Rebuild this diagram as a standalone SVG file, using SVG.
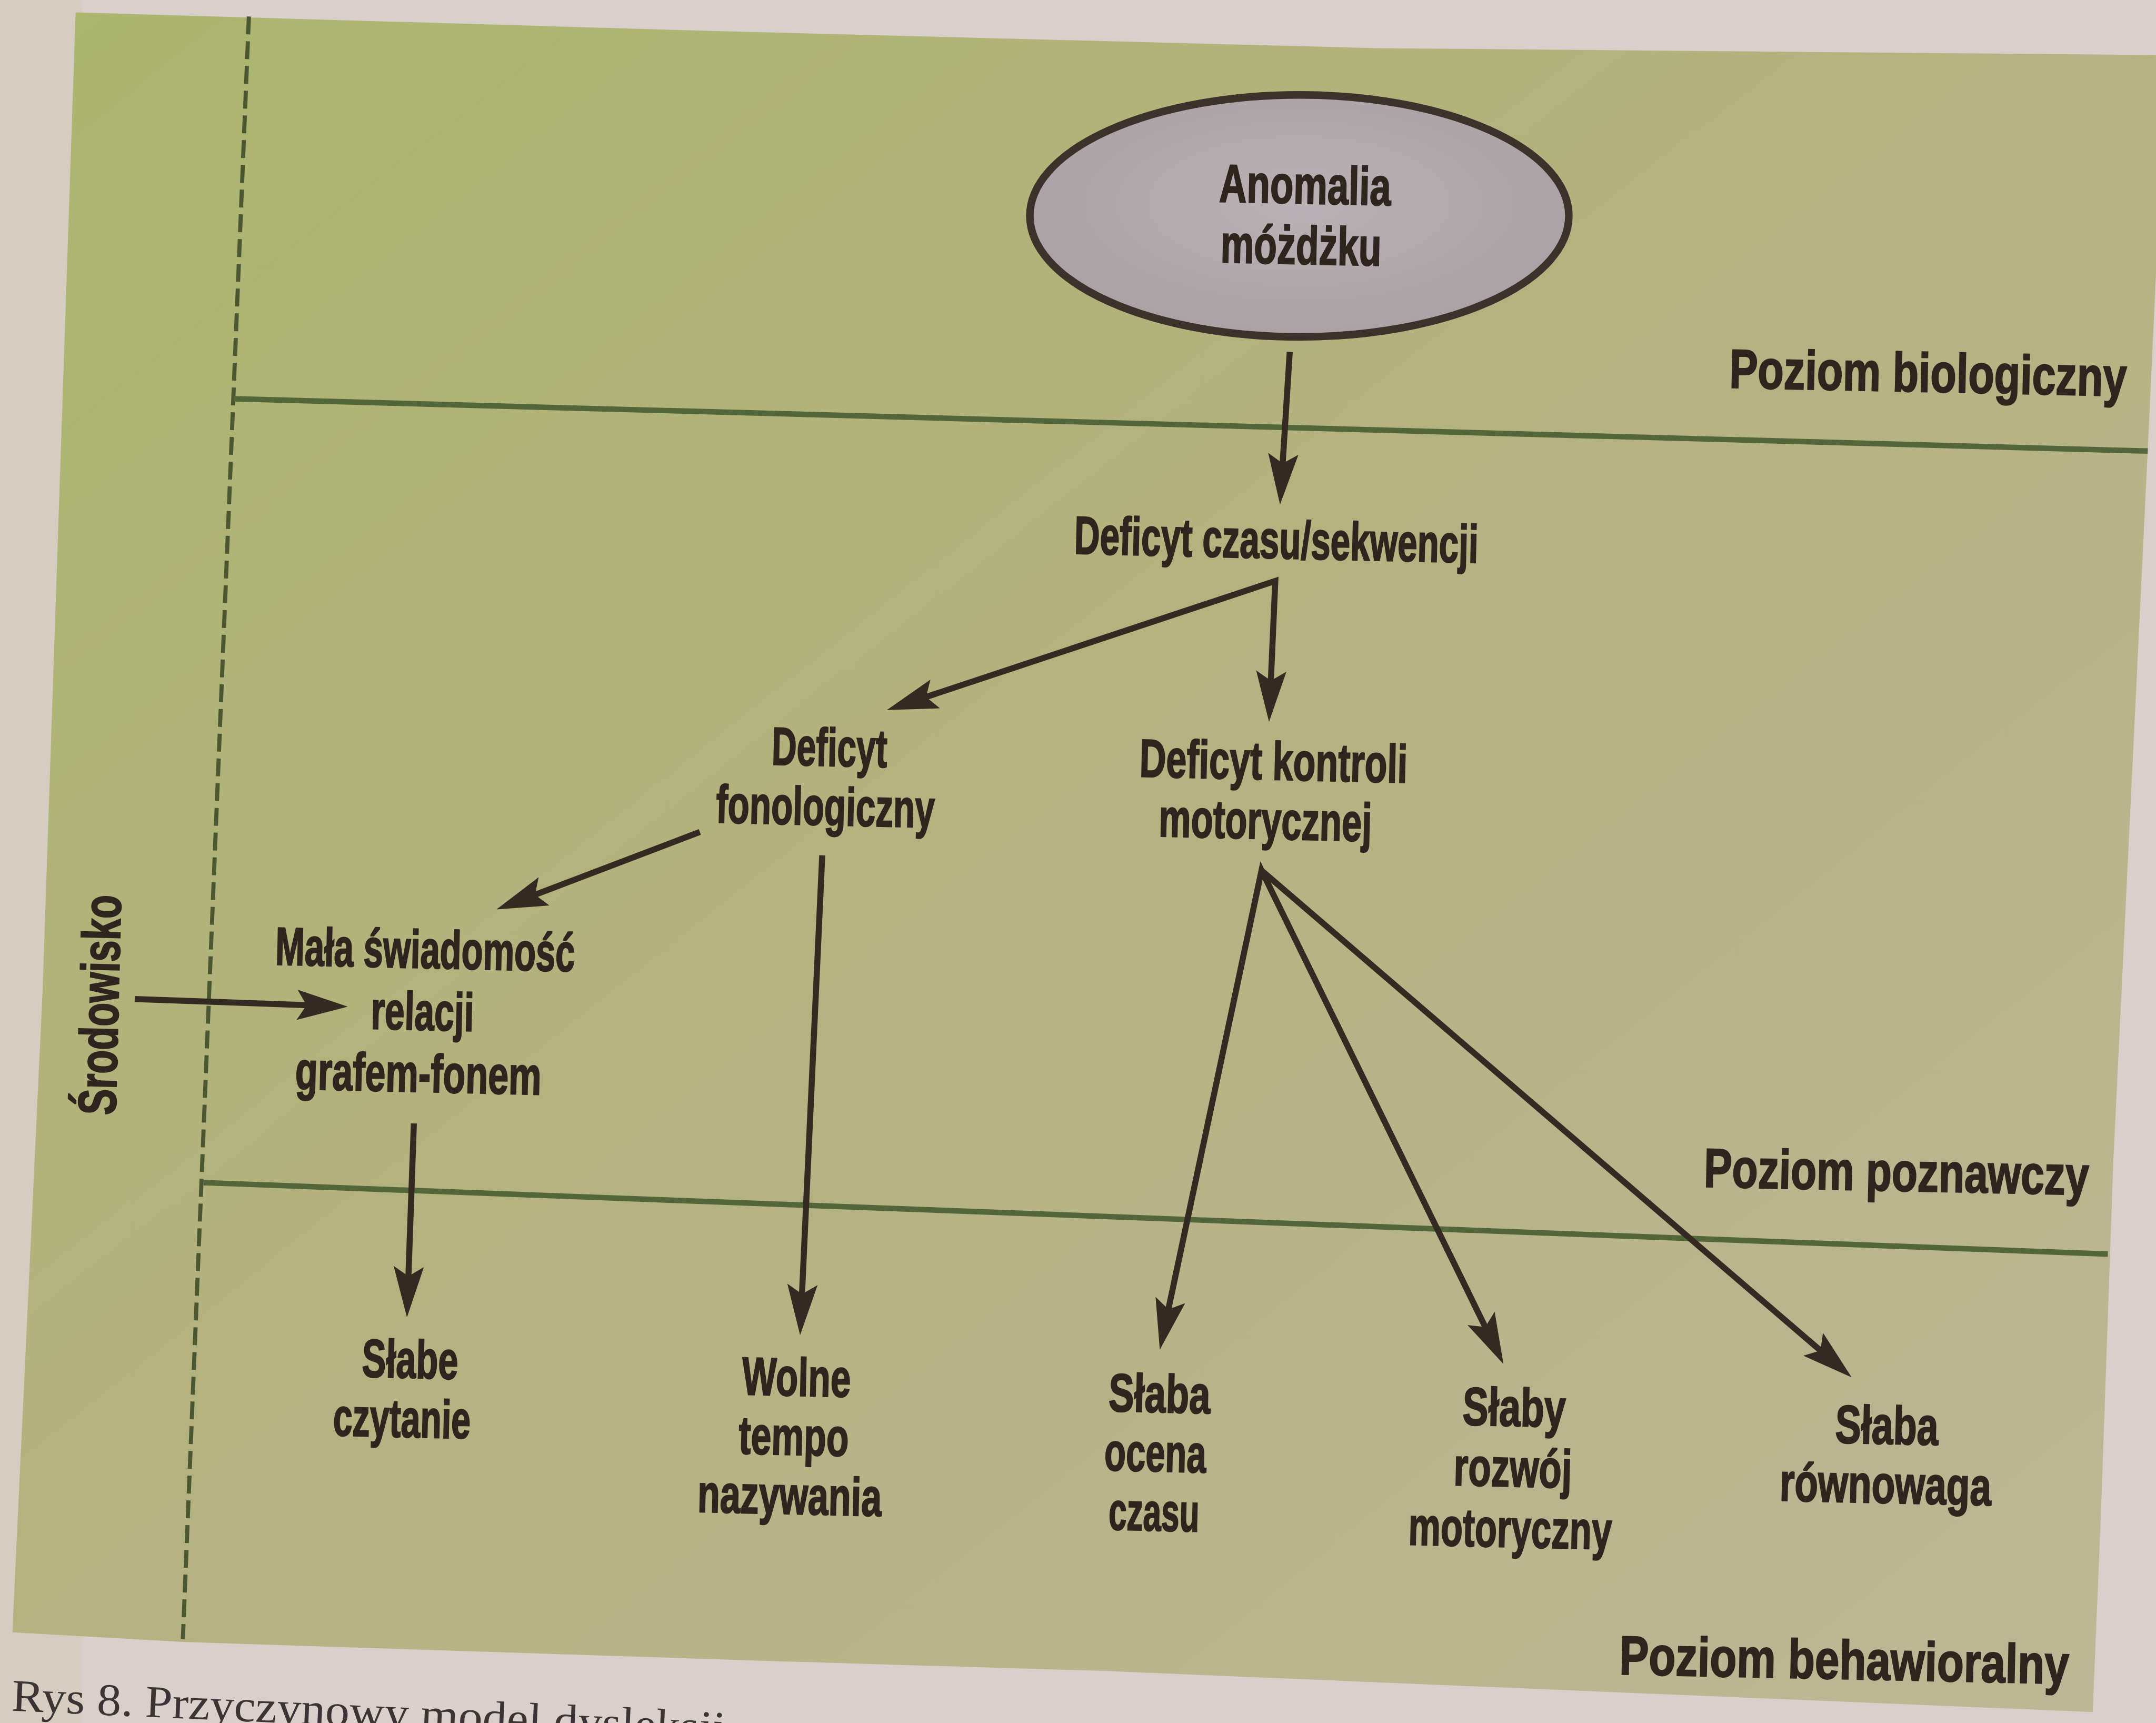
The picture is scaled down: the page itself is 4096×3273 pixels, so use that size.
<svg xmlns="http://www.w3.org/2000/svg" width="4096" height="3273" viewBox="0 0 4096 3273">
<defs>
<linearGradient id="paper" x1="0" y1="0" x2="1" y2="1">
<stop offset="0" stop-color="#abb66f"/>
<stop offset="0.45" stop-color="#b4b27f"/>
<stop offset="1" stop-color="#bdb797"/>
</linearGradient>
<radialGradient id="blob" cx="0.5" cy="0.45" r="0.6">
<stop offset="0" stop-color="#b8b2b6"/>
<stop offset="1" stop-color="#a8a1a4"/>
</radialGradient>
<marker id="ah" markerUnits="userSpaceOnUse" markerWidth="80" markerHeight="40" refX="0" refY="0" orient="auto-start-reverse" overflow="visible">
<path d="M26,0 L-11,-11 L-4,0 L-11,11 Z" fill="#332b22"/>
</marker>
<style>
.lbl{font-family:'Liberation Sans',Arial,'DejaVu Sans',sans-serif;font-weight:bold;font-size:39px;fill:#2e261e;stroke:#2e261e;stroke-width:0.9px;text-anchor:middle}
.lvl{font-family:'Liberation Sans',Arial,'DejaVu Sans',sans-serif;font-weight:bold;font-size:40px;fill:#2e261e;stroke:#2e261e;stroke-width:0.9px;text-anchor:middle}
.cap{font-family:'Liberation Serif','Times New Roman',serif;font-size:33px;fill:#3a3434}
.level{stroke:#53663a;stroke-width:4;fill:none}
.arr{stroke:#332b22;stroke-width:4.4;fill:none;stroke-linejoin:miter}
</style>
</defs>
<g transform="scale(2.6122)">
<rect x="0" y="0" width="1568" height="1253" fill="#d9d0cc"/>
<rect x="0" y="0" width="60" height="1253" fill="#d6ccc0"/>
<polygon points="55,9 500,22 1000,35 1568,40 1568,200 1562,328 1537,844 1528,1100 1522,1245 800,1215 563,1208 133,1194 9,1187 31,720" fill="url(#paper)"/>
<text class="cap" x="8" y="1244" textLength="520" lengthAdjust="spacingAndGlyphs" transform="rotate(2.6 8 1244)">Rys 8. Przyczynowy model dysleksji</text>

<line x1="181" y1="12" x2="133" y2="1192" stroke="#4b5731" stroke-width="3" stroke-dasharray="13 5"/>
<g id="level-lines">
<line class="level" x1="170" y1="290" x2="1562" y2="328"/>
<line class="level" x1="148" y1="860" x2="1533" y2="912"/>
</g>

<g id="level-labels">
<text class="lvl" x="1402" y="285" textLength="289" lengthAdjust="spacingAndGlyphs" transform="rotate(1.2 1402 285)">Poziom biologiczny</text>
<text class="lvl" x="1379" y="866" textLength="280" lengthAdjust="spacingAndGlyphs" transform="rotate(1.2 1379 866)">Poziom poznawczy</text>
<text class="lvl" x="1341" y="1221" textLength="327" lengthAdjust="spacingAndGlyphs" transform="rotate(1.2 1341 1221)">Poziom behawioralny</text>
</g>

<g id="srodowisko">
<text class="lbl" x="0" y="0" textLength="160" lengthAdjust="spacingAndGlyphs" transform="translate(86 731) rotate(-88.6)">Środowisko</text>
</g>

<g id="anomalia">
<ellipse cx="945" cy="157" rx="196" ry="88" fill="url(#blob)" stroke="#3b322b" stroke-width="5.5"/>
<text class="lbl" x="949" y="148" textLength="125" lengthAdjust="spacingAndGlyphs" transform="rotate(1.2 949 148)">Anomalia</text>
<text class="lbl" x="946" y="192" textLength="117" lengthAdjust="spacingAndGlyphs" transform="rotate(1.2 946 192)">móżdżku</text>
</g>

<g id="deficyt-czasu">
<text class="lbl" x="928" y="406" textLength="294" lengthAdjust="spacingAndGlyphs" transform="rotate(1.3 928 406)">Deficyt czasu/sekwencji</text>
</g>

<g id="deficyt-fonologiczny">
<text class="lbl" x="603" y="557" textLength="84" lengthAdjust="spacingAndGlyphs" transform="rotate(1.3 603 557)">Deficyt</text>
<text class="lbl" x="600" y="600" textLength="159" lengthAdjust="spacingAndGlyphs" transform="rotate(1.3 600 600)">fonologiczny</text>
</g>

<g id="deficyt-kontroli">
<text class="lbl" x="926" y="567" textLength="195" lengthAdjust="spacingAndGlyphs" transform="rotate(1.3 926 567)">Deficyt kontroli</text>
<text class="lbl" x="920" y="610" textLength="155" lengthAdjust="spacingAndGlyphs" transform="rotate(1.3 920 610)">motorycznej</text>
</g>

<g id="mala-swiadomosc">
<text class="lbl" x="309" y="704" textLength="218" lengthAdjust="spacingAndGlyphs" transform="rotate(1.3 309 704)">Mała świadomość</text>
<text class="lbl" x="307" y="749" textLength="75" lengthAdjust="spacingAndGlyphs" transform="rotate(1.3 307 749)">relacji</text>
<text class="lbl" x="304" y="794" textLength="179" lengthAdjust="spacingAndGlyphs" transform="rotate(1.3 304 794)">grafem-fonem</text>
</g>

<g id="slabe-czytanie">
<text class="lbl" x="298" y="1002" textLength="70" lengthAdjust="spacingAndGlyphs" transform="rotate(1.3 298 1002)">Słabe</text>
<text class="lbl" x="292" y="1045" textLength="100" lengthAdjust="spacingAndGlyphs" transform="rotate(1.3 292 1045)">czytanie</text>
</g>

<g id="wolne-tempo">
<text class="lbl" x="579" y="1015" textLength="79" lengthAdjust="spacingAndGlyphs" transform="rotate(1.3 579 1015)">Wolne</text>
<text class="lbl" x="577" y="1058" textLength="80" lengthAdjust="spacingAndGlyphs" transform="rotate(1.3 577 1058)">tempo</text>
<text class="lbl" x="574" y="1101" textLength="134" lengthAdjust="spacingAndGlyphs" transform="rotate(1.3 574 1101)">nazywania</text>
</g>

<g id="slaba-ocena">
<text class="lbl" x="843" y="1027" textLength="74" lengthAdjust="spacingAndGlyphs" transform="rotate(1.3 843 1027)">Słaba</text>
<text class="lbl" x="840" y="1070" textLength="74" lengthAdjust="spacingAndGlyphs" transform="rotate(1.3 840 1070)">ocena</text>
<text class="lbl" x="839" y="1113" textLength="66" lengthAdjust="spacingAndGlyphs" transform="rotate(1.3 839 1113)">czasu</text>
</g>

<g id="slaby-rozwoj">
<text class="lbl" x="1101" y="1037" textLength="75" lengthAdjust="spacingAndGlyphs" transform="rotate(1.3 1101 1037)">Słaby</text>
<text class="lbl" x="1100" y="1081" textLength="86" lengthAdjust="spacingAndGlyphs" transform="rotate(1.3 1100 1081)">rozwój</text>
<text class="lbl" x="1098" y="1125" textLength="148" lengthAdjust="spacingAndGlyphs" transform="rotate(1.3 1098 1125)">motoryczny</text>
</g>

<g id="slaba-rownowaga">
<text class="lbl" x="1372" y="1050" textLength="75" lengthAdjust="spacingAndGlyphs" transform="rotate(1.3 1372 1050)">Słaba</text>
<text class="lbl" x="1371" y="1093" textLength="154" lengthAdjust="spacingAndGlyphs" transform="rotate(1.3 1371 1093)">równowaga</text>
</g>

<g id="connectors">
<line class="arr" x1="938" y1="256" x2="932.6" y2="341" marker-end="url(#ah)"/>
<path class="arr" d="M669.7,508.1 L927.5,422.5 L924.1,499" marker-start="url(#ah)" marker-end="url(#ah)"/>
<line class="arr" x1="509" y1="605" x2="385.4" y2="652.1" marker-end="url(#ah)"/>
<line class="arr" x1="598" y1="622" x2="583.1" y2="945" marker-end="url(#ah)"/>
<line class="arr" x1="301" y1="817" x2="296.9" y2="932" marker-end="url(#ah)"/>
<line class="arr" x1="98" y1="726.5" x2="227" y2="731.1" marker-end="url(#ah)"/>
<path class="arr" d="M848.9,956.1 L917.5,633 L1082,968.6" marker-start="url(#ah)" marker-end="url(#ah)"/>
<line class="arr" x1="917.5" y1="633" x2="1327" y2="984.7" marker-end="url(#ah)"/>
</g>
</g>
</svg>
